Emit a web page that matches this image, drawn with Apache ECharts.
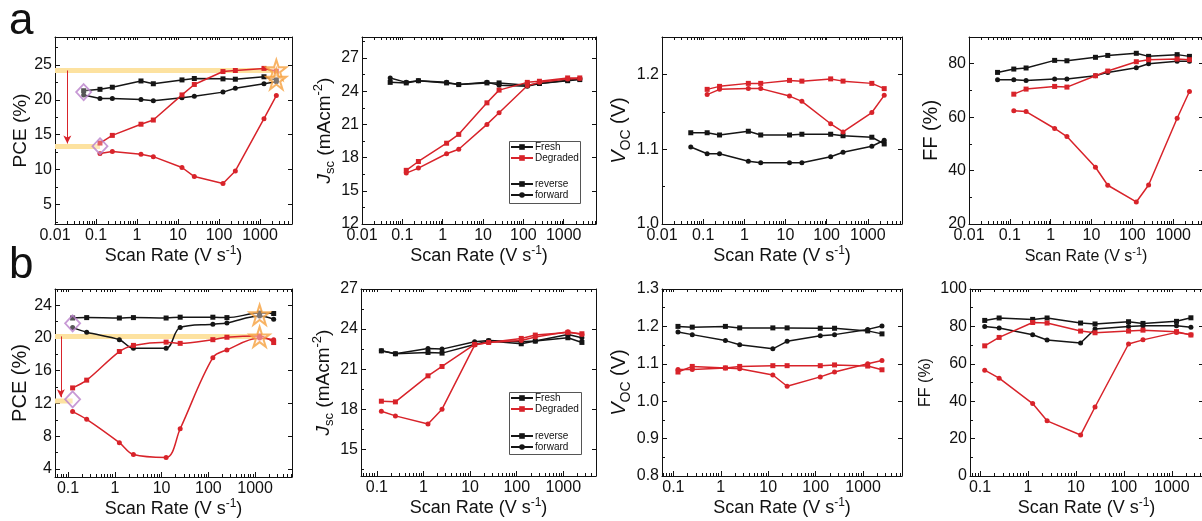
<!DOCTYPE html>
<html><head><meta charset="utf-8">
<script src="https://cdn.jsdelivr.net/npm/echarts@6/dist/echarts.min.js"></script>
<style>html,body{margin:0;padding:0;background:#fff}#c{width:1202px;height:521px}</style>
</head><body><div id="c"></div>
<script>
// ---------------- DATA ----------------
const rateA = [0.05, 0.125, 0.25, 1.25, 2.5, 12.5, 25, 125, 250, 1250, 2500];
const rateB = [0.125, 0.25, 1.25, 2.5, 12.5, 25, 125, 250, 1250, 2500];
const xTickRates = [0.01, 0.1, 1, 10, 100, 1000];
const xTickText = ['0.01', '0.1', '1', '10', '100', '1000'];

// panel a (row 1)
const a_PCE_freshRev = [21.3, 21.5, 21.8, 22.7, 22.3, 22.85, 23.05, 23.0, 22.95, 23.3, 22.85];
const a_PCE_freshFwd = [20.7, 20.2, 20.2, 20.05, 19.85, 20.3, 20.5, 21.1, 21.65, 22.3, 22.6];
const a_PCE_degRev = [13.8, 14.9, 16.5, 17.1, 20.7, 22.2, 24.05, 24.2, 24.5, 24.1];
const a_PCE_degFwd = [12.3, 12.6, 12.2, 11.85, 10.3, 9.0, 8.0, 9.8, 17.3, 20.6];

const a_JSC_freshRev = [24.8, 24.75, 24.95, 24.75, 24.6, 24.75, 24.75, 24.55, 24.7, 24.95, 25.05];
const a_JSC_freshFwd = [25.2, 24.8, 24.95, 24.8, 24.6, 24.8, 24.55, 24.45, 24.7, 25.0, 25.1];
const a_JSC_degRev = [16.85, 17.65, 19.3, 20.1, 22.95, 24.1, 24.8, 24.9, 25.2, 25.2];
const a_JSC_degFwd = [16.6, 17.05, 18.35, 18.75, 21.0, 22.05, 24.5, 24.8, 25.1, 25.15];

const a_VOC_freshRev = [1.122, 1.122, 1.119, 1.124, 1.119, 1.119, 1.120, 1.120, 1.118, 1.116, 1.107];
const a_VOC_freshFwd = [1.103, 1.094, 1.094, 1.084, 1.082, 1.082, 1.082, 1.090, 1.096, 1.104, 1.112];
const a_VOC_degRev = [1.180, 1.184, 1.188, 1.188, 1.192, 1.191, 1.194, 1.191, 1.188, 1.181];
const a_VOC_degFwd = [1.173, 1.180, 1.181, 1.181, 1.171, 1.164, 1.134, 1.123, 1.149, 1.172];

const a_FF_freshRev = [76.75, 78, 78.4, 81.25, 81.1, 82.4, 83.1, 83.9, 82.75, 83.4, 82.75];
const a_FF_freshFwd = [74, 74, 73.75, 74.25, 74.25, 75.5, 76.75, 78.5, 80, 80.9, 80.9];
const a_FF_degRev = [68.6, 70.5, 71.5, 71.25, 75.5, 77.25, 80.75, 81.5, 81.75, 81.5];
const a_FF_degFwd = [62.4, 62.1, 55.75, 52.75, 41.25, 34.5, 28.25, 34.6, 59.6, 69.6];

// panel b (row 2)
const b_PCE_freshRev = [22.45, 22.5, 22.45, 22.5, 22.45, 22.55, 22.55, 22.5, 23.05, 23.0];
const b_PCE_freshFwd = [21.3, 20.7, 19.8, 18.75, 18.75, 21.3, 21.7, 21.85, 22.7, 22.3];
const b_PCE_degRev = [13.9, 14.85, 18.35, 19.1, 19.5, 19.35, 19.8, 20.1, 20.25, 19.45];
const b_PCE_degFwd = [11.0, 10.05, 7.2, 5.75, 5.4, 8.9, 17.6, 18.55, 20.0, 19.8];

const b_JSC_freshRev = [22.37, 22.15, 22.25, 22.2, 22.85, 23.1, 22.9, 23.1, 23.35, 23.0];
const b_JSC_freshFwd = [22.37, 22.15, 22.55, 22.5, 23.05, 23.15, 23.05, 23.1, 23.6, 23.35];
const b_JSC_degRev = [18.6, 18.55, 20.5, 21.2, 22.85, 23.0, 23.3, 23.55, 23.75, 23.65];
const b_JSC_degFwd = [17.85, 17.5, 16.9, 18.0, 22.8, 23.0, 23.15, 23.4, 23.8, 23.6];

const b_VOC_freshRev = [1.200, 1.198, 1.200, 1.196, 1.196, 1.196, 1.195, 1.195, 1.188, 1.180];
const b_VOC_freshFwd = [1.185, 1.178, 1.162, 1.151, 1.140, 1.160, 1.175, 1.178, 1.192, 1.201];
const b_VOC_degRev = [1.078, 1.093, 1.089, 1.093, 1.095, 1.095, 1.095, 1.097, 1.094, 1.084];
const b_VOC_degFwd = [1.085, 1.085, 1.089, 1.087, 1.070, 1.040, 1.065, 1.078, 1.100, 1.109];

const b_FF_freshRev = [83.2, 84.5, 83.75, 84.5, 81.8, 81.3, 82.5, 81.6, 82.7, 84.6];
const b_FF_freshFwd = [80, 79.1, 75.5, 72.7, 71.1, 78.6, 80, 80.4, 80.4, 79.6];
const b_FF_degRev = [69.6, 74.1, 82.1, 81.8, 77.5, 76.6, 77.5, 78, 77.2, 75.4];
const b_FF_degFwd = [56.6, 52.3, 38.75, 29.5, 21.9, 36.9, 70.6, 72.8, 76.8, 75.6];

// y tick labels
const yTicksA_PCE = [5, 10, 15, 20, 25];
const yTicksA_JSC = [12, 15, 18, 21, 24, 27];
const yTicksA_VOC = [1.0, 1.1, 1.2];
const yTicksA_FF = [20, 40, 60, 80];
const yTicksB_PCE = [4, 8, 12, 16, 20, 24];
const yTicksB_JSC = [15, 18, 21, 24, 27];
const yTicksB_VOC = [0.8, 0.9, 1.0, 1.1, 1.2, 1.3];
const yTicksB_FF = [0, 20, 40, 60, 80, 100];

// annotations on the PCE panels (scan rate, PCE)
const a_bandPCE = [24.2, 13.3];          // yellow guide levels
const a_bandEndRate = [2500, 0.125];
const a_arrowRate = 0.02;
const a_starRate = [2500, 2500], a_starPCE = [24.3, 22.95];
const a_diamondRate = [0.05, 0.125], a_diamondPCE = [21.1, 13.35];

const b_bandPCE = [20.2, 12.3];
const b_bandEndRate = [1250, 0.125];
const b_arrowRate = 0.07;
const b_starRate = [1250, 1250], b_starPCE = [22.85, 20.15];
const b_diamondRate = [0.125, 0.125], b_diamondPCE = [21.8, 12.5];

// ---------------- STYLE / LAYOUT ----------------
const FONT = '"Liberation Sans", Arial, Helvetica, sans-serif';
const BLACK = '#151515', RED = '#d8232a', BAND = '#fde2a0';
const STAR = 'path://M50 0 L61.8 35.1 L100 35.1 L69.1 57.4 L80.9 92.7 L50 70.8 L19.1 92.7 L30.9 57.4 L0 35.1 L38.2 35.1 Z';

const layout = [
  {L: 55, R: 292, T: 37, B: 224, xr: [-2, 3.78], yr: [2.2, 29], yt: yTicksA_PCE, yName: 'PCE (%)', yFs: 19, yGap: 22, xFs: 18, xGap: 17, dec: 0},
  {L: 362, R: 596, T: 37, B: 224, xr: [-2, 3.8], yr: [12, 28.9], yt: yTicksA_JSC, yName: 'JSC', yFs: 19, yGap: 25, xFs: 18, xGap: 17, dec: 0},
  {L: 662, R: 902, T: 37, B: 224, xr: [-2, 3.83], yr: [1.0, 1.25], yt: yTicksA_VOC, yName: 'VOC', yFs: 20, yGap: 28, xFs: 18, xGap: 17, dec: 1},
  {L: 969, R: 1203, T: 37, B: 224, xr: [-2, 3.73], yr: [20, 90], yt: yTicksA_FF, yName: 'FF (%)', yFs: 20, yGap: 25, xFs: 16, xGap: 22, dec: 0},
  {L: 55, R: 292, T: 289, B: 477, xr: [-1.28, 3.79], yr: [3, 26], yt: yTicksB_PCE, yName: 'PCE (%)', yFs: 20, yGap: 22, xFs: 18, xGap: 21, dec: 0},
  {L: 361, R: 596, T: 289, B: 476, xr: [-1.34, 3.7], yr: [13, 27], yt: yTicksB_JSC, yName: 'JSC', yFs: 19, yGap: 24, xFs: 18, xGap: 21, dec: 0},
  {L: 662, R: 902, T: 289, B: 476, xr: [-1.24, 3.82], yr: [0.8, 1.3], yt: yTicksB_VOC, yName: 'VOC', yFs: 20, yGap: 27, xFs: 18, xGap: 21, dec: 1},
  {L: 970, R: 1203, T: 289, B: 476, xr: [-1.21, 3.65], yr: [0, 100], yt: yTicksB_FF, yName: 'FF (%)', yFs: 16, yGap: 34, xFs: 18, xGap: 21, dec: 0}
];

const option = {
  backgroundColor: '#fff', animation: false,
  textStyle: {fontFamily: FONT},
  grid: [], xAxis: [], yAxis: [], series: [], legend: [], graphic: []
};

function richFor(fs) {
  const lh = Math.round(fs * 1.3), sf = Math.round(fs * 0.68);
  return {
    n: {fontSize: fs, lineHeight: lh, color: '#111', fontFamily: FONT},
    i: {fontSize: fs, lineHeight: lh, color: '#111', fontStyle: 'italic', fontFamily: FONT},
    s: {fontSize: sf, lineHeight: sf, color: '#111', verticalAlign: 'bottom', fontFamily: FONT},
    sup: {fontSize: sf, lineHeight: sf, color: '#111', verticalAlign: 'top', fontFamily: FONT}
  };
}
function yNameStr(k) {
  if (k === 'JSC') return '{i|J}{s|sc}{n| (mAcm}{sup|-2}{n|)}';
  if (k === 'VOC') return '{i|V}{s|OC}{n| (V)}';
  return '{n|' + k + '}';
}
function minorLog(lo, hi) {
  const out = [];
  for (let n = -3; n <= 4; n++) for (let k = 2; k <= 9; k++) {
    const v = Math.log10(k) + n;
    if (v > lo && v < hi) out.push(v);
  }
  return out;
}
function minorLin(ticks, lo, hi) {
  const step = ticks[1] - ticks[0], out = [];
  for (let v = ticks[0] - step / 2; v <= hi + 1e-9; v += step) if (v >= lo - 1e-9) out.push(+v.toFixed(4));
  return out;
}
const axLine = {show: true, onZero: false, lineStyle: {color: '#111', width: 1}};

layout.forEach((g, p) => {
  const gi = 2 * p;
  const box = {left: g.L, top: g.T, width: g.R - g.L, height: g.B - g.T, outerBoundsMode: 'none', containLabel: false};
  option.grid.push(Object.assign({}, box), Object.assign({}, box));
  const majX = [], majLbl = [];
  xTickRates.forEach((r, i) => { const v = Math.log10(r); if (v >= g.xr[0] - 1e-9 && v <= g.xr[1]) { majX.push(v); majLbl.push(xTickText[i]); } });
  const minX = minorLog(g.xr[0], g.xr[1]);
  const ym = minorLin(g.yt, g.yr[0], g.yr[1]);
  // x axes
  option.xAxis.push({
    gridIndex: gi, type: 'value', position: 'bottom', min: g.xr[0], max: g.xr[1],
    axisLine: axLine, splitLine: {show: false}, minorTick: {show: false},
    axisTick: {show: true, inside: true, length: 5, customValues: majX, lineStyle: {color: '#111'}},
    axisLabel: {show: true, customValues: majX, margin: 4, fontSize: 16, color: '#111', fontFamily: FONT,
      formatter: v => { const i = majX.findIndex(m => Math.abs(m - v) < 1e-6); return i >= 0 ? majLbl[i] : ''; }},
    name: 'Scan Rate (V s{sup|-1})', nameLocation: 'middle', nameGap: g.xGap,
    nameTextStyle: {fontSize: g.xFs, lineHeight: Math.round(g.xFs * 1.3), color: '#111', fontFamily: FONT, rich: richFor(g.xFs)}
  });
  option.xAxis.push({
    gridIndex: gi, type: 'value', position: 'top', min: g.xr[0], max: g.xr[1],
    axisLine: axLine, splitLine: {show: false},
    axisTick: {show: true, inside: true, length: 3, customValues: majX.concat(minX), lineStyle: {color: '#111'}},
    axisLabel: {show: false}
  });
  option.xAxis.push({
    gridIndex: gi + 1, type: 'value', position: 'bottom', min: g.xr[0], max: g.xr[1],
    axisLine: {show: false, onZero: false}, splitLine: {show: false},
    axisTick: {show: true, inside: true, length: 3, customValues: minX, lineStyle: {color: '#111'}},
    axisLabel: {show: false}
  });
  // y axes
  option.yAxis.push({
    gridIndex: gi, type: 'value', position: 'left', min: g.yr[0], max: g.yr[1],
    axisLine: axLine, splitLine: {show: false},
    axisTick: {show: true, inside: true, length: 5, customValues: g.yt, lineStyle: {color: '#111'}},
    axisLabel: {show: true, customValues: g.yt, margin: 3, fontSize: 16, color: '#111', fontFamily: FONT,
      formatter: v => g.dec ? v.toFixed(g.dec) : String(Math.round(v))},
    name: yNameStr(g.yName), nameLocation: 'middle', nameRotate: 90, nameGap: g.yGap,
    nameTextStyle: {fontSize: g.yFs, color: '#111', fontFamily: FONT, rich: richFor(g.yFs)}
  });
  option.yAxis.push({
    gridIndex: gi + 1, type: 'value', position: 'left', min: g.yr[0], max: g.yr[1],
    axisLine: {show: false, onZero: false}, splitLine: {show: false},
    axisTick: {show: true, inside: true, length: 3, customValues: ym, lineStyle: {color: '#111'}},
    axisLabel: {show: false}
  });
  option.yAxis.push({
    gridIndex: gi + 1, type: 'value', position: 'right', min: g.yr[0], max: g.yr[1],
    axisLine: axLine, splitLine: {show: false},
    axisTick: {show: true, inside: true, length: 4, customValues: g.yt, lineStyle: {color: '#111'}},
    axisLabel: {show: false}
  });
});

function pts(rates, vals) { return vals.map((v, i) => [Math.log10(rates[i]), v]); }
function addLine(p, name, rates, vals, color, symbol, smooth) {
  option.series.push({
    name, type: 'line', xAxisIndex: 3 * p, yAxisIndex: 3 * p, data: pts(rates, vals),
    symbol, symbolSize: 5, showSymbol: true, smooth: smooth || false, clip: false,
    lineStyle: {color, width: 1.5}, itemStyle: {color}, z: 3, silent: true
  });
}
const panelData = [
  [a_PCE_freshRev, a_PCE_freshFwd, a_PCE_degRev, a_PCE_degFwd, rateA, rateB, false],
  [a_JSC_freshRev, a_JSC_freshFwd, a_JSC_degRev, a_JSC_degFwd, rateA, rateB, false],
  [a_VOC_freshRev, a_VOC_freshFwd, a_VOC_degRev, a_VOC_degFwd, rateA, rateB, false],
  [a_FF_freshRev, a_FF_freshFwd, a_FF_degRev, a_FF_degFwd, rateA, rateB, false],
  [b_PCE_freshRev, b_PCE_freshFwd, b_PCE_degRev, b_PCE_degFwd, rateB, rateB, 0.35],
  [b_JSC_freshRev, b_JSC_freshFwd, b_JSC_degRev, b_JSC_degFwd, rateB, rateB, false],
  [b_VOC_freshRev, b_VOC_freshFwd, b_VOC_degRev, b_VOC_degFwd, rateB, rateB, false],
  [b_FF_freshRev, b_FF_freshFwd, b_FF_degRev, b_FF_degFwd, rateB, rateB, false]
];
panelData.forEach((d, p) => {
  addLine(p, 'p' + p + ' fresh reverse', d[4], d[0], BLACK, 'rect', d[6]);
  addLine(p, 'p' + p + ' fresh forward', d[4], d[1], BLACK, 'circle', d[6]);
  addLine(p, 'p' + p + ' degraded reverse', d[5], d[2], RED, 'rect', d[6]);
  addLine(p, 'p' + p + ' degraded forward', d[5], d[3], RED, 'circle', d[6]);
});

// annotations on PCE panels
function addAnnot(p, bandY, bandEnd, arrowRate, starR, starY, diaR, diaY) {
  const g = layout[p];
  const ax = Math.log10(arrowRate);
  bandY.forEach((y, k) => {
    const s = {
      name: 'band' + p + k, type: 'line', xAxisIndex: 3 * p, yAxisIndex: 3 * p,
      data: [[g.xr[0], y], [Math.log10(bandEnd[k]), y]], symbol: 'none', silent: true,
      lineStyle: {color: BAND, width: 5}, z: 1
    };
    if (k === 0) {
      s.markLine = {
        silent: true, symbol: ['none', 'arrow'], symbolSize: [6, 8], label: {show: false},
        lineStyle: {color: RED, width: 1, type: 'solid'}, z: 2,
        data: [[{coord: [ax, bandY[0]]}, {coord: [ax, bandY[1] + 0.45]}]]
      };
    }
    option.series.push(s);
  });
  option.series.push({
    name: 'dia' + p, type: 'scatter', xAxisIndex: 3 * p, yAxisIndex: 3 * p,
    data: diaR.map((r, i) => [Math.log10(r), diaY[i]]), symbol: 'diamond', symbolSize: [15, 16],
    itemStyle: {color: 'rgba(255,255,255,0.35)', borderColor: '#b97fcb', borderWidth: 1.8}, z: 5, silent: true
  });
  option.series.push({
    name: 'star' + p, type: 'scatter', xAxisIndex: 3 * p, yAxisIndex: 3 * p,
    data: starR.map((r, i) => [Math.log10(r), starY[i]]), symbol: STAR, symbolSize: 20,
    itemStyle: {color: 'rgba(255,236,230,0.55)', borderColor: '#f6a13e', borderWidth: 2}, z: 5, silent: true
  });
}
addAnnot(0, a_bandPCE, a_bandEndRate, a_arrowRate, a_starRate, a_starPCE, a_diamondRate, a_diamondPCE);
addAnnot(4, b_bandPCE, b_bandEndRate, b_arrowRate, b_starRate, b_starPCE, b_diamondRate, b_diamondPCE);

// legend dummy series
[['Fresh', BLACK, 'rect'], ['Degraded', RED, 'rect'], ['reverse', BLACK, 'rect'], ['forward', BLACK, 'circle']].forEach(l => {
  option.series.push({name: l[0], type: 'line', xAxisIndex: 3, yAxisIndex: 3, data: [], symbol: l[2], symbolSize: 5,
    lineStyle: {color: l[1], width: 1.5}, itemStyle: {color: l[1]}});
});
function addLegend(top1, top2) {
  const common = {left: 510, orient: 'vertical', itemWidth: 22, itemHeight: 7, itemGap: 1, padding: 0,
    selectedMode: false, textStyle: {fontSize: 10, color: '#111', fontFamily: FONT, padding: [0, 0, 0, -3]}};
  option.legend.push(Object.assign({top: top1, data: ['Fresh', 'Degraded']}, common));
  option.legend.push(Object.assign({top: top2, data: ['reverse', 'forward']}, common));
}
addLegend(142, 179);
addLegend(393, 431);
option.graphic.push(
  {type: 'rect', shape: {x: 509.5, y: 141.5, width: 71, height: 62}, style: {fill: 'none', stroke: '#555', lineWidth: 1}, z: 10},
  {type: 'rect', shape: {x: 509.5, y: 392.5, width: 72, height: 62}, style: {fill: 'none', stroke: '#555', lineWidth: 1}, z: 10},
  {type: 'text', left: 9, top: 0, style: {text: 'a', fontSize: 44, fill: '#111', fontFamily: FONT}},
  {type: 'text', left: 9, top: 244, style: {text: 'b', fontSize: 44, fill: '#111', fontFamily: FONT}}
);

const chart = echarts.init(document.getElementById('c'), null, {renderer: 'canvas'});
chart.setOption(option);
</script>
</body></html>
